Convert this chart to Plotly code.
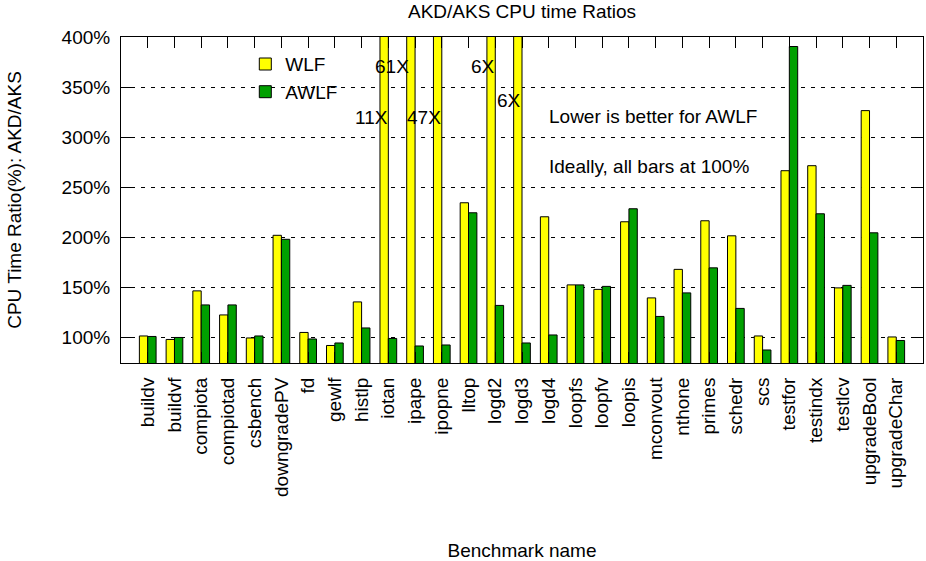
import plotly.graph_objects as go

categories = ["buildv", "buildvf", "compiota", "compiotad", "csbench", "downgradePV", "fd",
              "gewlf", "histlp", "iotan", "ipape", "ipopne", "lltop", "logd2", "logd3", "logd4",
              "loopfs", "loopfv", "loopis", "mconvout", "nthone", "primes", "schedr", "scs",
              "testfor", "testindx", "testlcv", "upgradeBool", "upgradeChar"]

wlf = [101.5, 98, 146.5, 122.5, 99.5, 202, 105, 92, 135.5, 1100, 6100, 4700, 234.5, 600, 600,
       220.5, 152.5, 148, 215.5, 139.5, 168, 216.5, 201.5, 101.5, 266.5, 271.5, 149.5, 326.5, 100.5]
awlf = [101, 100, 132.5, 132.5, 101.5, 198, 98.5, 94.5, 109.5, 99, 91.5, 92.5, 224.5, 132, 94.5,
        102.5, 152.5, 151, 228.5, 121, 144.5, 169.5, 129, 87.5, 390.5, 223.5, 152, 204.5, 97]

y_ticks = [100, 150, 200, 250, 300, 350, 400]

# off-scale labels: (text, category, y)
big_labels = [("11X", "iotan", 320), ("61X", "ipape", 370.5), ("47X", "ipopne", 320),
              ("6X", "logd2", 370.5), ("6X", "logd3", 337)]
notes = ["Lower is better for AWLF", "Ideally, all bars at 100%"]
note_y = [320.5, 270.5]

FONT = "Liberation Sans, Arial, Helvetica, sans-serif"
FS = 19

fig = go.Figure()
fig.add_trace(go.Bar(name="WLF", x=categories, y=wlf, marker=dict(color="#ffff00", line=dict(color="black", width=1))))
fig.add_trace(go.Bar(name="AWLF", x=categories, y=awlf, marker=dict(color="#00a000", line=dict(color="black", width=1))))

annotations = []
for txt, cat, yv in big_labels:
    idx = categories.index(cat)
    off = -0.15 if txt == "61X" else 0.05
    annotations.append(dict(x=idx + off, y=yv, xref="x", yref="y", text=txt, showarrow=False,
                            xanchor="right", yanchor="middle", font=dict(family=FONT, size=FS, color="black")))
for txt, yv in zip(notes, note_y):
    annotations.append(dict(x=14.94, y=yv, xref="x", yref="y", text=txt, showarrow=False,
                            xanchor="left", yanchor="middle", font=dict(family=FONT, size=FS, color="black")))

fig.update_layout(
    width=926, height=561,
    margin=dict(l=121, r=3, t=37, b=198, autoexpand=False),
    paper_bgcolor="white", plot_bgcolor="white",
    font=dict(family=FONT, size=FS, color="black"),
    title=dict(text="AKD/AKS CPU time Ratios", x=0.5, xref="paper", xanchor="center",
               y=1 - 11 / 561, yref="container", yanchor="middle", font=dict(family=FONT, size=FS)),
    barmode="group", bargap=0.375, bargroupgap=0,
    showlegend=True,
    legend=dict(x=0.155, y=0.975, xanchor="left", yanchor="top", bgcolor="rgba(0,0,0,0)",
                font=dict(family=FONT, size=FS), tracegroupgap=0),
    annotations=annotations,
)
fig.update_xaxes(
    type="category", range=[-1, 29], showline=True, linecolor="black", linewidth=1, mirror="ticks",
    ticks="inside", ticklen=11, tickcolor="black", tickangle=-90, showgrid=False,
    tickfont=dict(family=FONT, size=FS), ticklabelstandoff=6,
    title=dict(text="Benchmark name", font=dict(family=FONT, size=FS), standoff=47),
    automargin=False,
)
fig.update_yaxes(
    range=[74.5, 400], tickvals=y_ticks, ticktext=[f"{v}%" for v in y_ticks],
    showline=True, linecolor="black", linewidth=1, mirror="ticks",
    ticks="inside", ticklen=10, tickcolor="black",
    showgrid=True, gridcolor="black", gridwidth=1, griddash="4px,6px", zeroline=False,
    tickfont=dict(family=FONT, size=FS), ticklabelstandoff=6,
    title=dict(text="CPU Time Ratio(%): AKD/AKS", font=dict(family=FONT, size=FS), standoff=34),
    automargin=False,
)

fig.write_html("out.html")
